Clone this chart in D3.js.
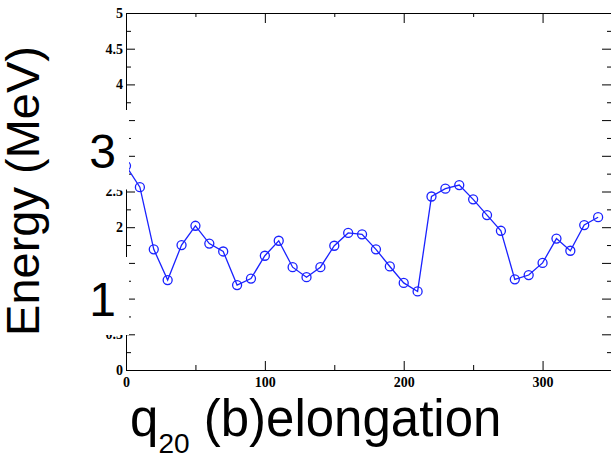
<!DOCTYPE html>
<html lang="en">
<head>
    <meta charset="UTF-8">
    <title>Energy vs q20 elongation</title>
    <script src="https://d3js.org/d3.v7.min.js"></script>
    <style>
        body { margin: 0; background: #fff; }
        svg { display: block; }
        .tick text { font-family: "Liberation Serif", serif; font-weight: bold; font-size: 14px; fill: #000; }
        .big { font-family: "Liberation Sans", Arial, sans-serif; font-size: 48px; fill: #000; }
    </style>
</head>
<body>
<svg width="611" height="456"></svg>
<script>
// q20 elongation (b) and computed energy (MeV)
const q20 = [0, 10, 20, 30, 40, 50, 60, 70, 80, 90, 100, 110, 120, 130, 140, 150, 160,
             170, 180, 190, 200, 210, 220, 230, 240, 250, 260, 270, 280, 290, 300, 310, 320, 330, 340];
const energy = [2.86, 2.56, 1.69, 1.26, 1.75, 2.02, 1.77, 1.66, 1.19, 1.28, 1.60, 1.81,
                1.44, 1.30, 1.44, 1.74, 1.92, 1.90, 1.69, 1.45, 1.22, 1.10, 2.43, 2.54,
                2.59, 2.39, 2.17, 1.95, 1.27, 1.33, 1.50, 1.84, 1.67, 2.03, 2.14];

const xMajor = [0, 100, 200, 300];
const xMinor = [50, 150, 250];
const yMajor = [0, 0.5, 1, 1.5, 2, 2.5, 3, 3.5, 4, 4.5, 5];
// labels under the pasted-over patches are blank
const yLabels = ["0", "0.5", "", "", "2", "2.5", "", "", "4", "4.5", "5"];
const yMinor = [0.25, 0.75, 1.25, 1.75, 2.25, 2.75, 3.25, 3.75, 4.25, 4.75];

const svg = d3.select("svg");

const x = d3.scaleLinear().domain([0, 350]).range([126, 612]);
const y = d3.scaleLinear().domain([0, 5]).range([370, 13]);

function styleAxis(g) {
    g.selectAll("path, line").attr("stroke", "#000").attr("stroke-width", 1);
}

// bottom
svg.append("g").attr("transform", `translate(0,${y(0)})`)
    .call(d3.axisBottom(x).tickValues(xMajor).tickSize(-9).tickSizeOuter(0).tickPadding(7.5).tickFormat(d => d))
    .call(styleAxis);
svg.append("g").attr("transform", `translate(0,${y(0)})`)
    .call(d3.axisBottom(x).tickValues(xMinor).tickSize(-5).tickSizeOuter(0).tickFormat(""))
    .call(g => g.select(".domain").remove())
    .call(styleAxis);

// top
svg.append("g").attr("transform", `translate(0,${y(5)})`)
    .call(d3.axisTop(x).tickValues(xMajor).tickSize(-10).tickSizeOuter(0).tickFormat(""))
    .call(styleAxis);
svg.append("g").attr("transform", `translate(0,${y(5)})`)
    .call(d3.axisTop(x).tickValues(xMinor).tickSize(-4).tickSizeOuter(0).tickFormat(""))
    .call(g => g.select(".domain").remove())
    .call(styleAxis);

// left
svg.append("g").attr("transform", `translate(${x(0)},0)`)
    .call(d3.axisLeft(y).tickValues(yMajor).tickSize(-9).tickSizeOuter(0).tickPadding(3)
        .tickFormat((d, i) => yLabels[i]))
    .call(styleAxis);
svg.append("g").attr("transform", `translate(${x(0)},0)`)
    .call(d3.axisLeft(y).tickValues(yMinor).tickSize(-5).tickSizeOuter(0).tickFormat(""))
    .call(g => g.select(".domain").remove())
    .call(styleAxis);

// right
svg.append("g").attr("transform", `translate(${x(350)},0)`)
    .call(d3.axisRight(y).tickValues(yMajor).tickSize(-10).tickSizeOuter(0).tickFormat(""))
    .call(styleAxis);
svg.append("g").attr("transform", `translate(${x(350)},0)`)
    .call(d3.axisRight(y).tickValues(yMinor).tickSize(-5).tickSizeOuter(0).tickFormat(""))
    .call(g => g.select(".domain").remove())
    .call(styleAxis);

// data
const pts = q20.map((q, i) => ({ q: q, e: energy[i] }));
svg.append("path")
    .datum(pts)
    .attr("fill", "none")
    .attr("stroke", "#1a22ff")
    .attr("stroke-width", 1.3)
    .attr("d", d3.line().x(d => x(d.q)).y(d => y(d.e)));
svg.selectAll("circle.pt")
    .data(pts)
    .enter()
    .append("circle")
    .attr("class", "pt")
    .attr("cx", d => x(d.q))
    .attr("cy", d => y(d.e))
    .attr("r", 4.5)
    .attr("fill", "none")
    .attr("stroke", "#1a22ff")
    .attr("stroke-width", 1.3);

// white patches pasted over the old axis labels
svg.append("rect").attr("x", 55).attr("y", 110).attr("width", 74).attr("height", 79.5).attr("fill", "#fff");
svg.append("rect").attr("x", 55).attr("y", 257).attr("width", 74).attr("height", 78).attr("fill", "#fff");

// big replacement labels
svg.append("text").attr("class", "big").attr("x", 116).attr("y", 168).attr("text-anchor", "end").text("3");
svg.append("text").attr("class", "big").attr("x", 116).attr("y", 316).attr("text-anchor", "end").text("1");

// axis titles
svg.append("text")
    .attr("class", "big")
    .attr("font-size", 47)
    .style("font-size", "47px")
    .attr("transform", "translate(39,191) rotate(-90)")
    .attr("text-anchor", "middle")
    .text("Energy (MeV)");

const xt = svg.append("text").attr("class", "big").style("font-size", "51px").attr("x", 130).attr("y", 436);
xt.append("tspan").text("q");
xt.append("tspan").style("font-size", "28px").attr("dy", 17).text("20");
xt.append("tspan").attr("dy", -17).text(" (b)elongation");
</script>
</body>
</html>
